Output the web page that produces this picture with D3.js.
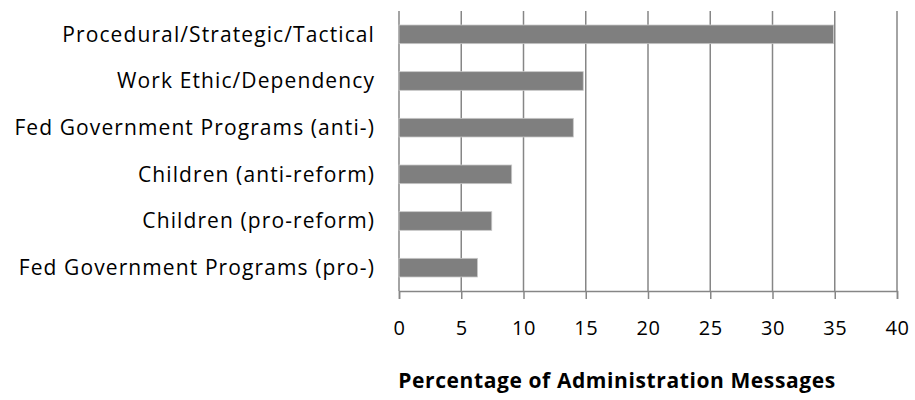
<!DOCTYPE html>
<html>
<head>
<meta charset="utf-8">
<script src="https://cdn.jsdelivr.net/npm/d3@7"></script>
<style>
  body { margin: 0; background: #fff; }
  text { font-family: "Open Sans", sans-serif; fill: #000; }
</style>
</head>
<body>
<svg id="chart" width="915" height="400"></svg>
<script>
var categories = [
    "Procedural/Strategic/Tactical",
    "Work Ethic/Dependency",
    "Fed Government Programs (anti-)",
    "Children (anti-reform)",
    "Children (pro-reform)",
    "Fed Government Programs (pro-)"
];
var values = [34.9, 14.8, 14.0, 9.05, 7.45, 6.3];
var xTicks = [0, 5, 10, 15, 20, 25, 30, 35, 40];
var xTitle = "Percentage of Administration Messages";

var svg = d3.select("#chart"),
    margin = { top: 11, right: 18, bottom: 109, left: 399 },
    width = +svg.attr("width") - margin.left - margin.right,
    height = +svg.attr("height") - margin.top - margin.bottom,
    g = svg.append("g").attr("transform", "translate(" + margin.left + "," + margin.top + ")");

var data = categories.map(function (c, i) { return { name: c, value: values[i] }; });

var x = d3.scaleLinear().domain([0, 40]).range([0, width]);
var y = d3.scaleBand().domain(categories).range([0, height]).paddingInner(0.6).paddingOuter(0.3);

// grid lines
g.selectAll(".grid")
    .data(xTicks)
    .enter().append("line")
    .attr("x1", function (d) { return x(d); })
    .attr("x2", function (d) { return x(d); })
    .attr("y1", 0)
    .attr("y2", height)
    .attr("stroke", "#868686")
    .attr("stroke-width", 1.5);

// bars
g.selectAll(".bar")
    .data(data)
    .enter().append("rect")
    .attr("x", x(0))
    .attr("y", function (d) { return y(d.name); })
    .attr("width", function (d) { return x(d.value) - x(0); })
    .attr("height", y.bandwidth())
    .attr("fill", "#7f7f7f")
    .attr("stroke", "#c8c8c8")
    .attr("stroke-width", 0.8);

// x axis
var xAxis = g.append("g")
    .attr("transform", "translate(0," + height + ")")
    .call(d3.axisBottom(x).tickValues(xTicks).tickSize(8).tickPadding(22).tickFormat(d3.format("d")));
xAxis.selectAll("line, path").attr("stroke", "#868686").attr("stroke-width", 1.5);
xAxis.selectAll("text")
    .style("font-size", "20px")
    .style("font-family", "'Open Sans', sans-serif")
    .style("letter-spacing", "0.5px");

// y labels
g.selectAll(".label")
    .data(data)
    .enter().append("text")
    .attr("x", -24)
    .attr("y", function (d) { return y(d.name) + y.bandwidth() / 2; })
    .attr("dy", "0.35em")
    .attr("text-anchor", "end")
    .style("font-size", "21px")
    .style("letter-spacing", "1.1px")
    .text(function (d) { return d.name; });

// axis title
svg.append("text")
    .attr("x", 617)
    .attr("y", 388)
    .attr("text-anchor", "middle")
    .style("font-size", "21px")
    .style("font-weight", "bold")
    .style("letter-spacing", "0.6px")
    .text(xTitle);
</script>
</body>
</html>
